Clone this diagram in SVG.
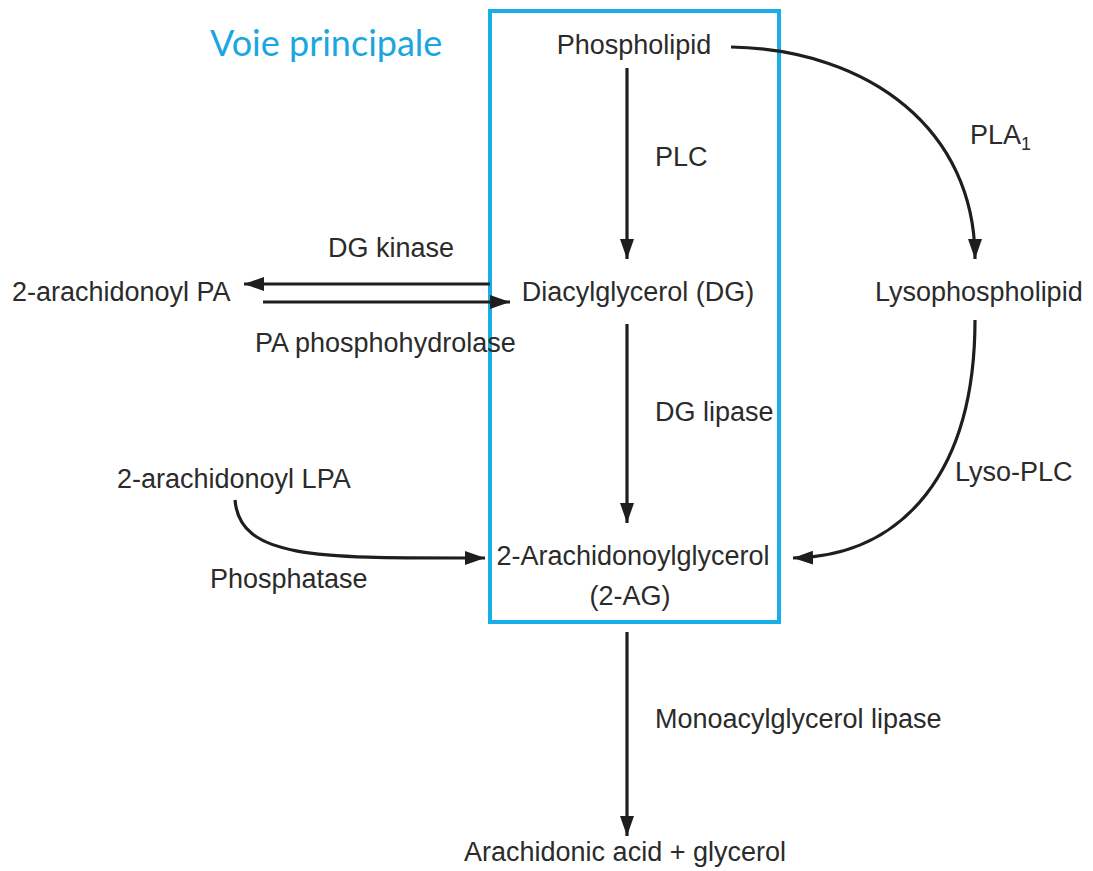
<svg xmlns="http://www.w3.org/2000/svg" width="1093" height="871" viewBox="0 0 1093 871">
<style>
.t{font-family:"Liberation Sans",Arial,sans-serif;font-size:27px;fill:#2b2b2b}
.c{text-anchor:middle}
.ln{fill:none;stroke:#1e1e1e;stroke-width:3.2}
.title{font-family:Lato,"Liberation Sans",sans-serif;font-size:36px;fill:#1aa7e1}
</style>
<defs>
<marker id="ah" markerUnits="userSpaceOnUse" markerWidth="22" markerHeight="16" refX="20" refY="8" orient="auto">
<path d="M0,1 L20,8 L0,15 Z" fill="#1e1e1e"/>
</marker>
</defs>
<rect x="0" y="0" width="1093" height="871" fill="#ffffff"/>
<g id="box">
<rect x="490" y="11" width="289" height="611" fill="none" stroke="#18aee8" stroke-width="4"/>
<text class="title" x="210" y="56">Voie principale</text>
</g>
<g id="connectors">
<line class="ln" x1="627" y1="68" x2="627" y2="259" marker-end="url(#ah)"/>
<line class="ln" x1="627" y1="324" x2="627" y2="523" marker-end="url(#ah)"/>
<line class="ln" x1="627" y1="632" x2="627" y2="836" marker-end="url(#ah)"/>
<line class="ln" x1="490" y1="284" x2="244" y2="284" marker-end="url(#ah)"/>
<line class="ln" x1="263" y1="302" x2="510" y2="302" marker-end="url(#ah)"/>
<path class="ln" d="M731,47 C870,50 975,130 975,259" marker-end="url(#ah)"/>
<path class="ln" d="M975,320 C975,470 905,556 793,558" marker-end="url(#ah)"/>
<path class="ln" d="M235,500 C240,560 320,558 485,558" marker-end="url(#ah)"/>
</g>
<g id="phospholipid"><text class="t c" x="634" y="54">Phospholipid</text></g>
<g id="plc"><text class="t" x="655" y="166">PLC</text></g>
<g id="dg"><text class="t c" x="638" y="301">Diacylglycerol (DG)</text></g>
<g id="dgkinase"><text class="t c" x="391" y="257">DG kinase</text></g>
<g id="pa"><text class="t" x="12" y="301">2-arachidonoyl PA</text></g>
<g id="paphos"><text class="t" x="255" y="352">PA phosphohydrolase</text></g>
<g id="dglipase"><text class="t" x="655" y="421">DG lipase</text></g>
<g id="lpa"><text class="t" x="117" y="488">2-arachidonoyl LPA</text></g>
<g id="phosphatase"><text class="t" x="210" y="588">Phosphatase</text></g>
<g id="ag"><text class="t c" x="633" y="565">2-Arachidonoylglycerol</text><text class="t c" x="630" y="605">(2-AG)</text></g>
<g id="pla1"><text class="t" x="970" y="144">PLA<tspan font-size="18" dy="6">1</tspan></text></g>
<g id="lyso"><text class="t" x="875" y="301">Lysophospholipid</text></g>
<g id="lysoplc"><text class="t" x="955" y="481">Lyso-PLC</text></g>
<g id="mgl"><text class="t" x="655" y="728">Monoacylglycerol lipase</text></g>
<g id="aa"><text class="t c" x="625" y="861">Arachidonic acid + glycerol</text></g>
</svg>
